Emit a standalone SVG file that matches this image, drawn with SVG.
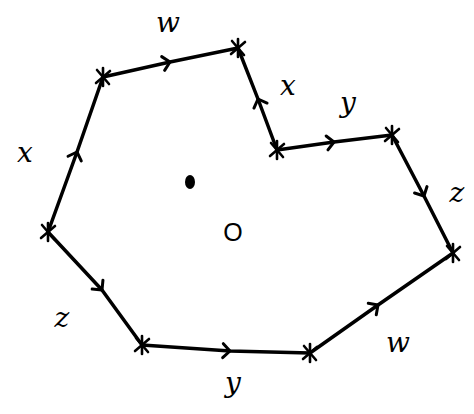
<svg xmlns="http://www.w3.org/2000/svg" width="474" height="414" viewBox="0 0 474 414">
<defs>
<style>
.e{fill:none;stroke:#000;stroke-width:3.5;stroke-linecap:round;stroke-linejoin:round;marker-mid:url(#chev)}
.lbl{font-family:"DejaVu Serif","Liberation Serif",serif;font-style:italic;font-size:28px;fill:#000;text-anchor:middle}
</style>
<marker id="chev" markerUnits="userSpaceOnUse" markerWidth="20" markerHeight="20" refX="0" refY="0" viewBox="-10 -10 20 20" orient="auto" overflow="visible">
<path d="M-7,-7 L0,0 L-7,7" fill="none" stroke="#000" stroke-width="3" stroke-linecap="round" stroke-linejoin="round"/>
</marker>
<g id="xm" stroke="#000" stroke-width="2.6" stroke-linecap="round"><line x1="-6" y1="-7" x2="6" y2="7"/><line x1="-7" y1="6" x2="7" y2="-6"/><line x1="0" y1="-9" x2="0" y2="9"/></g>
</defs>
<rect width="474" height="414" fill="#fff"/>
<g id="connectors">
<path id="e-AB" class="e" d="M103,77 L170,62 L238,48"/>
<path id="e-CB" class="e" d="M277,150 L258,99 L238,48"/>
<path id="e-CD" class="e" d="M277,150 L334,142 L392,135"/>
<path id="e-DE" class="e" d="M392,135 L424,196 L453,253"/>
<path id="e-FE" class="e" d="M310,353 L378,305 L453,253"/>
<path id="e-GF" class="e" d="M142,345 L230,351 L310,353"/>
<path id="e-HG" class="e" d="M48,232 L102,290 L142,345"/>
<path id="e-HA" class="e" d="M48,232 L77,152 L103,77"/>
</g>
<g id="vertices">
<g id="vA"><use href="#xm" x="103" y="77"/></g>
<g id="vB"><use href="#xm" x="238" y="48"/></g>
<g id="vC"><use href="#xm" x="277" y="150"/></g>
<g id="vD"><use href="#xm" x="392" y="135"/></g>
<g id="vE"><use href="#xm" x="453" y="253"/></g>
<g id="vF"><use href="#xm" x="310" y="353"/></g>
<g id="vG"><use href="#xm" x="142" y="345"/></g>
<g id="vH"><use href="#xm" x="48" y="232"/></g>
</g>
<g id="center">
<ellipse cx="190" cy="182" rx="5" ry="7" fill="#000"/>
<text x="233" y="241" text-anchor="middle" font-family="Liberation Sans, sans-serif" font-size="25" fill="#000">O</text>
</g>
<g id="labels">
<text class="lbl" x="168" y="32">w</text>
<text class="lbl" x="288" y="95">x</text>
<text class="lbl" x="348" y="112">y</text>
<text class="lbl" x="457" y="202">z</text>
<text class="lbl" x="398" y="352">w</text>
<text class="lbl" x="233" y="392">y</text>
<text class="lbl" x="62" y="327">z</text>
<text class="lbl" x="25" y="162">x</text>
</g>
</svg>
